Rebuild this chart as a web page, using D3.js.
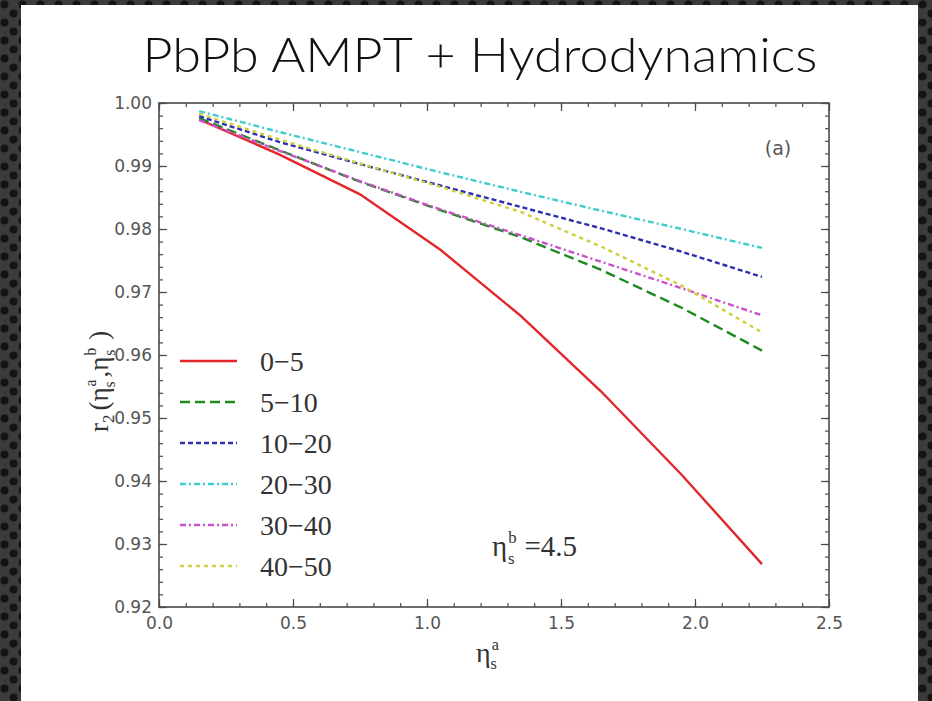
<!DOCTYPE html>
<html>
<head>
<meta charset="utf-8">
<script src="https://cdn.jsdelivr.net/npm/d3@7"></script>
<style>
  html, body { margin: 0; padding: 0; background: #3a3a3a; }
  svg { display: block; }
</style>
</head>
<body>
<div id="viz"></div>
<script>
var width = 932,
    height = 701;

// eta_s^a sample points
var etaA = [0.15, 0.45, 0.75, 1.05, 1.35, 1.65, 1.95, 2.25];

// r2 values per centrality class
var r0_5   = [0.9974, 0.9918, 0.9855, 0.9767, 0.9662, 0.9542, 0.9410, 0.9268];
var r5_10  = [0.9976, 0.9925, 0.9875, 0.9830, 0.9787, 0.9735, 0.9675, 0.9607];
var r10_20 = [0.9979, 0.9938, 0.9903, 0.9869, 0.9835, 0.9801, 0.9764, 0.9724];
var r20_30 = [0.9987, 0.9954, 0.9922, 0.9890, 0.9859, 0.9829, 0.9800, 0.9770];
var r30_40 = [0.9973, 0.9924, 0.9876, 0.9831, 0.9790, 0.9748, 0.9706, 0.9663];
var r40_50 = [0.9983, 0.9942, 0.9904, 0.9867, 0.9827, 0.9772, 0.9710, 0.9636];

var labels = ["0\u22125", "5\u221210", "10\u221220", "20\u221230", "30\u221240", "40\u221250"];
var colors = ["#e3262a", "#1f8a1f", "#2e2eb0", "#3fcccc", "#cc4fcc", "#cfcf3c"];
var dashes = ["none", "10,5", "5,3", "6,3,2,3", "6,3,2,3", "4,4"];

var xTicks = [0.0, 0.5, 1.0, 1.5, 2.0, 2.5];
var yTicks = [0.92, 0.93, 0.94, 0.95, 0.96, 0.97, 0.98, 0.99, 1.00];

var seriesValues = [r0_5, r5_10, r10_20, r20_30, r30_40, r40_50];
var series = seriesValues.map(function(v, i) {
    return { name: labels[i], color: colors[i], dash: dashes[i],
             pts: etaA.map(function(e, j) { return [e, v[j]]; }) };
});

var svg = d3.select("#viz").append("svg")
    .attr("width", width)
    .attr("height", height);

// dotted dark backdrop
var pat = svg.append("defs").append("pattern")
    .attr("id", "dots")
    .attr("width", 18).attr("height", 18)
    .attr("patternUnits", "userSpaceOnUse");
pat.append("rect").attr("width", 18).attr("height", 18).attr("fill", "#3b3b3b");
pat.append("circle").attr("cx", 4.5).attr("cy", 4.5).attr("r", 4).attr("fill", "#141414");
pat.append("circle").attr("cx", 13.5).attr("cy", 13.5).attr("r", 4).attr("fill", "#141414");

svg.append("rect")
    .attr("width", width).attr("height", height)
    .attr("fill", "url(#dots)");

// white slide panel
svg.append("rect")
    .attr("x", 21).attr("y", 5)
    .attr("width", 897).attr("height", 700)
    .attr("fill", "#ffffff");

// Title
svg.append("text")
    .attr("x", 480).attr("y", 72)
    .attr("text-anchor", "middle")
    .attr("textLength", 675)
    .attr("lengthAdjust", "spacingAndGlyphs")
    .style("font-family", "Lato, 'Open Sans', sans-serif")
    .style("font-weight", 300)
    .style("font-size", "47px")
    .style("fill", "#111")
    .text("PbPb AMPT + Hydrodynamics");

var x = d3.scaleLinear().domain([0, 2.5]).range([159, 829]);
var y = d3.scaleLinear().domain([0.92, 1.00]).range([607, 103]);

var axisColor = "#4a4a4a";

// frame
svg.append("rect")
    .attr("x", x(0)).attr("y", y(1.00))
    .attr("width", x(2.5) - x(0))
    .attr("height", y(0.92) - y(1.00))
    .attr("fill", "none")
    .attr("stroke", axisColor)
    .attr("stroke-width", 1.6);

// ticks, inward on all four sides
var xMinor = d3.range(0, 2.501, 0.1);
var yMinor = d3.range(0.92, 1.0001, 0.002);

function addTicks(g, axis, len) {
    g.call(axis.tickSize(len).tickFormat(""))
     .call(function(s) { s.select(".domain").remove(); })
     .selectAll("line").attr("stroke", axisColor).attr("stroke-width", 1.2);
}

addTicks(svg.append("g").attr("transform", "translate(0," + y(0.92) + ")"),
    d3.axisTop(x).tickValues(xMinor), 4);
addTicks(svg.append("g").attr("transform", "translate(0," + y(0.92) + ")"),
    d3.axisTop(x).tickValues(xTicks), 8);
addTicks(svg.append("g").attr("transform", "translate(0," + y(1.00) + ")"),
    d3.axisBottom(x).tickValues(xMinor), 4);
addTicks(svg.append("g").attr("transform", "translate(0," + y(1.00) + ")"),
    d3.axisBottom(x).tickValues(xTicks), 8);
addTicks(svg.append("g").attr("transform", "translate(" + x(0) + ",0)"),
    d3.axisRight(y).tickValues(yMinor), 4);
addTicks(svg.append("g").attr("transform", "translate(" + x(0) + ",0)"),
    d3.axisRight(y).tickValues(yTicks), 8);
addTicks(svg.append("g").attr("transform", "translate(" + x(2.5) + ",0)"),
    d3.axisLeft(y).tickValues(yMinor), 4);
addTicks(svg.append("g").attr("transform", "translate(" + x(2.5) + ",0)"),
    d3.axisLeft(y).tickValues(yTicks), 8);

// tick labels
var tickFont = "'DejaVu Sans', sans-serif";
var xLab = svg.append("g")
    .attr("transform", "translate(0," + y(0.92) + ")")
    .call(d3.axisBottom(x).tickValues(xTicks).tickSize(0).tickPadding(10).tickFormat(d3.format(".1f")));
xLab.select(".domain").remove();
xLab.selectAll("text").style("font-family", tickFont).style("font-size", "17px").attr("fill", "#555");

var yLab = svg.append("g")
    .attr("transform", "translate(" + x(0) + ",0)")
    .call(d3.axisLeft(y).tickValues(yTicks).tickSize(0).tickPadding(7).tickFormat(d3.format(".2f")));
yLab.select(".domain").remove();
yLab.selectAll("text").style("font-family", tickFont).style("font-size", "17px").attr("fill", "#555");

// curves
var line = d3.line()
    .x(function(d) { return x(d[0]); })
    .y(function(d) { return y(d[1]); });

svg.append("g").selectAll("path")
    .data(series)
    .enter().append("path")
    .attr("d", function(d) { return line(d.pts); })
    .attr("fill", "none")
    .attr("stroke", function(d) { return d.color; })
    .attr("stroke-width", 2.4)
    .attr("stroke-dasharray", function(d) { return d.dash; });

// legend
var serif = "'Liberation Serif', 'DejaVu Serif', serif";
var leg = svg.append("g").selectAll("g")
    .data(series)
    .enter().append("g")
    .attr("transform", function(d, i) { return "translate(180," + (361 + i * 41) + ")"; });

leg.append("line")
    .attr("x1", 0).attr("x2", 57)
    .attr("stroke", function(d) { return d.color; })
    .attr("stroke-width", 2.4)
    .attr("stroke-dasharray", function(d) { return d.dash; });

leg.append("text")
    .attr("x", 80).attr("dy", "0.35em")
    .style("font-family", serif)
    .style("font-size", "28px")
    .style("fill", "#333")
    .text(function(d) { return d.name; });

// panel tag
svg.append("text")
    .attr("x", 778).attr("y", 155)
    .attr("text-anchor", "middle")
    .style("font-family", tickFont)
    .style("font-size", "19px")
    .style("fill", "#555")
    .text("(a)");

// eta with stacked sub/sup; leaves baseline shifted down by 0.26*size
function etaLabel(t, sup, size) {
    t.append("tspan").text("\u03b7");
    t.append("tspan").attr("dx", 1).attr("dy", -size * 0.44).style("font-size", (size * 0.58) + "px").text(sup);
    t.append("tspan").attr("dx", -size * 0.3).attr("dy", size * 0.70).style("font-size", (size * 0.58) + "px").text("s");
}

// annotation
var ann = svg.append("text")
    .attr("x", 492).attr("y", 556)
    .style("font-family", serif)
    .style("font-size", "29px")
    .style("fill", "#333");
etaLabel(ann, "b", 29);
ann.append("tspan").attr("dx", 10).attr("dy", -29 * 0.26).text("=4.5");

// x axis label
var xt = svg.append("text")
    .attr("x", 476).attr("y", 662)
    .style("font-family", serif)
    .style("font-size", "28px")
    .style("fill", "#333");
etaLabel(xt, "a", 28);

// y axis label
var yt = svg.append("text")
    .attr("transform", "translate(108,432) rotate(-90)")
    .style("font-family", serif)
    .style("font-size", "27px")
    .style("fill", "#333");
yt.append("tspan").text("r");
yt.append("tspan").attr("dy", 6).style("font-size", "17px").text("2");
yt.append("tspan").attr("dy", -6).attr("dx", 4).text("(");
etaLabel(yt, "a", 27);
yt.append("tspan").attr("dx", 4).attr("dy", -27 * 0.26).text(",");
etaLabel(yt, "b", 27);
yt.append("tspan").attr("dx", 10).attr("dy", -27 * 0.26).text(")");
</script>
</body>
</html>
